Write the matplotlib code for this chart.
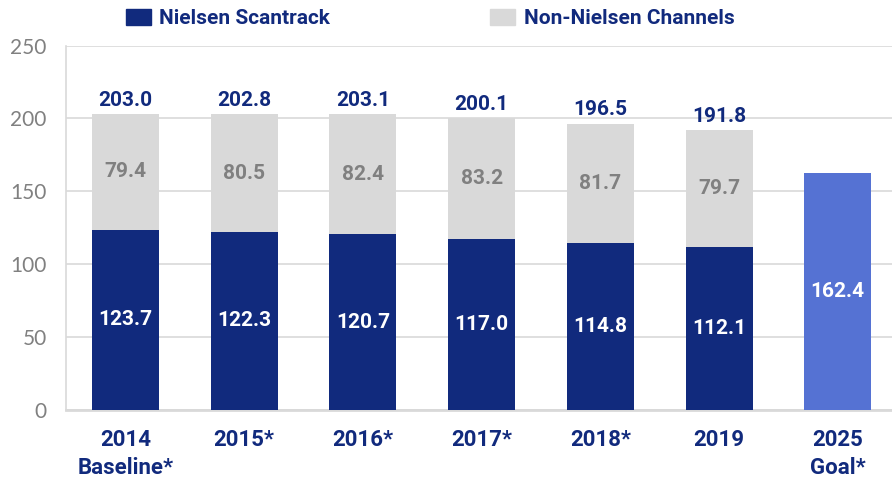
"""Stacked bars: Nielsen Scantrack vs non-Nielsen channels, with 2025 goal."""

import matplotlib
matplotlib.use('Agg')
import matplotlib.pyplot as plt
from matplotlib.patches import Patch

CATEGORIES = ['2014\nBaseline*', '2015*', '2016*', '2017*', '2018*', '2019', '2025\nGoal*']
NIELSEN = [123.7, 122.3, 120.7, 117.0, 114.8, 112.1]
NON_NIELSEN = [79.4, 80.5, 82.4, 83.2, 81.7, 79.7]
TOTALS = [203.0, 202.8, 203.1, 200.1, 196.5, 191.8]
GOAL = 162.4
Y_TICKS = [0, 50, 100, 150, 200, 250]

NAVY = '#112a7d'
LIGHT_GRAY = '#d9d9d9'
GOAL_BLUE = '#5572d3'
TICK_GRAY = '#808080'
GRID_GRAY = '#d9d9d9'

NUM_FONT = ['Roboto', 'DejaVu Sans']
TICK_FONT = ['Lato', 'DejaVu Sans']


def main() -> None:
    fig = plt.figure(figsize=(8.92, 4.78), dpi=100)
    ax = fig.add_axes([0.074, 0.1423, 0.926, 0.7623])

    xs = list(range(len(CATEGORIES)))
    width = 0.565
    hist_x = xs[:len(NIELSEN)]

    ax.bar(hist_x, NIELSEN, width, color=NAVY, zorder=3)
    ax.bar(hist_x, NON_NIELSEN, width, bottom=NIELSEN, color=LIGHT_GRAY, zorder=3)
    ax.bar(xs[-1], GOAL, width, color=GOAL_BLUE, zorder=3)

    for x, n, o, t in zip(hist_x, NIELSEN, NON_NIELSEN, TOTALS):
        ax.text(x, n / 2, f'{n:.1f}', ha='center', va='center', color='white',
                fontsize=15, fontweight='bold', family=NUM_FONT, zorder=4)
        ax.text(x, n + o / 2, f'{o:.1f}', ha='center', va='center', color=TICK_GRAY,
                fontsize=15, fontweight='bold', family=NUM_FONT, zorder=4)
        ax.text(x, n + o + 3, f'{t:.1f}', ha='center', va='bottom', color=NAVY,
                fontsize=15, fontweight='bold', family=NUM_FONT, zorder=4)
    ax.text(xs[-1], GOAL / 2, f'{GOAL:.1f}', ha='center', va='center', color='white',
            fontsize=15, fontweight='bold', family=NUM_FONT, zorder=4)

    ax.set_xlim(-0.501, 6.457)
    ax.set_ylim(0, 250)
    ax.set_yticks(Y_TICKS)
    ax.set_yticklabels([str(v) for v in Y_TICKS], color=TICK_GRAY, fontsize=15,
                       family=TICK_FONT)
    ax.set_xticks(xs)
    ax.set_xticklabels(CATEGORIES, color=NAVY, fontsize=16, fontweight='bold',
                       family=NUM_FONT, linespacing=1.3)
    ax.tick_params(axis='both', length=0)
    ax.tick_params(axis='x', pad=14)
    ax.tick_params(axis='y', pad=14)

    ax.grid(axis='y', color=GRID_GRAY, lw=1.2, zorder=0)
    for side in ('top', 'right'):
        ax.spines[side].set_visible(False)
    ax.spines['left'].set_color(GRID_GRAY)
    ax.spines['left'].set_linewidth(1.2)
    ax.spines['bottom'].set_color(GRID_GRAY)
    ax.spines['bottom'].set_linewidth(2)

    handles = [Patch(color=NAVY, label='Nielsen Scantrack'),
               Patch(color=LIGHT_GRAY, label='Non-Nielsen Channels')]
    leg = fig.legend(handles=handles, ncol=2, loc='upper left',
                     bbox_to_anchor=(0.12, 1.02), frameon=False,
                     handlelength=1.2, handleheight=0.8, handletextpad=0.4,
                     columnspacing=7.7,
                     prop={'family': NUM_FONT, 'weight': 'bold', 'size': 15})
    for txt in leg.get_texts():
        txt.set_color(NAVY)

    fig.savefig('out.png', dpi=100)
    plt.close(fig)


if __name__ == '__main__':
    main()
